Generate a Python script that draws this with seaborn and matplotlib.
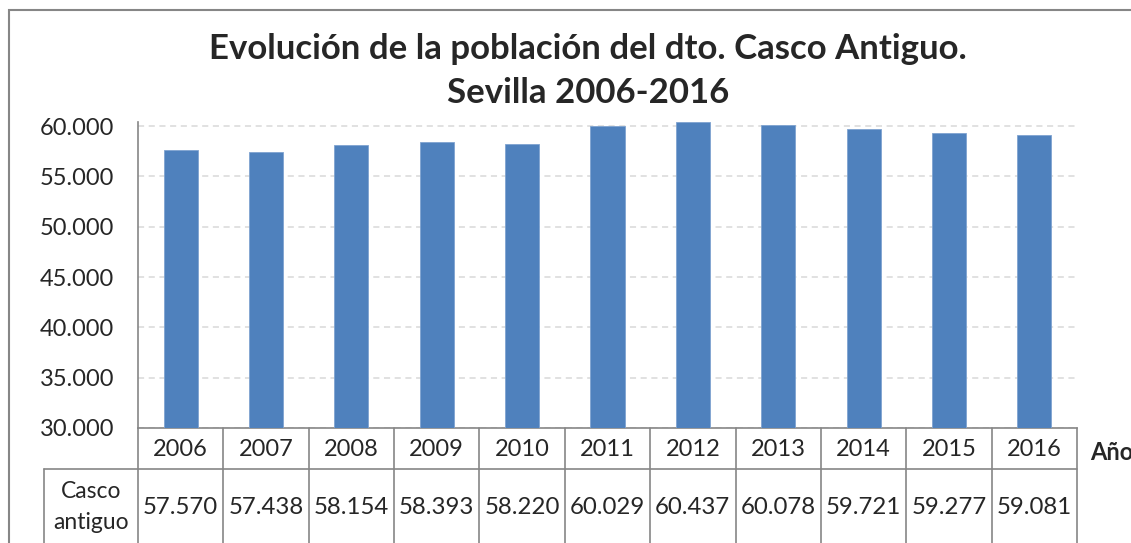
import matplotlib
matplotlib.use("Agg")
import matplotlib.pyplot as plt
from matplotlib.patches import Rectangle
from matplotlib.ticker import FuncFormatter
import seaborn as sns
import pandas as pd

# data #
years = ['2006', '2007', '2008', '2009', '2010', '2011', '2012', '2013', '2014', '2015', '2016']
casco_antiguo = [57570, 57438, 58154, 58393, 58220, 60029, 60437, 60078, 59721, 59277, 59081]
yticks = [30000, 35000, 40000, 45000, 50000, 55000, 60000]
row_label = 'Casco\nantiguo'
title = 'Evolución de la población del dto. Casco Antiguo.\nSevilla 2006-2016'

df = pd.DataFrame({'Año': years, 'Casco antiguo': casco_antiguo})

sns.set_style("white")
plt.rcParams['font.family'] = ['Lato', 'DejaVu Sans']

W, H = 1131, 543
fig = plt.figure(figsize=(W / 100, H / 100), dpi=100)
ax = fig.add_axes([138 / W, 1 - 428 / H, (1077 - 138) / W, (428 - 122) / H])

grey = '#868686'
sns.barplot(data=df, x='Año', y='Casco antiguo', color='#4F81BD', width=0.4,
            edgecolor='#7FA3D0', linewidth=0.6, saturation=1, ax=ax, zorder=3)

ax.set_ylim(30000, 60400)
ax.set_xlim(-0.5, len(years) - 0.5)
ax.set_yticks(yticks)
ax.yaxis.set_major_formatter(FuncFormatter(lambda v, p: f"{v:,.0f}".replace(',', '.')))
ax.grid(axis='y', color='#D9D9D9', linestyle=(0, (4, 3)), linewidth=1.1, zorder=0)
ax.tick_params(axis='y', direction='out', length=8, width=1.2, color=grey, labelsize=17, pad=9)
ax.tick_params(axis='x', length=0, labelbottom=False)
ax.set_xlabel('')
ax.set_ylabel('')
for s in ['top', 'right']:
    ax.spines[s].set_visible(False)
for s in ['left', 'bottom']:
    ax.spines[s].set_color(grey)
    ax.spines[s].set_linewidth(1.2)

# data table below the plot #
tr = ax.get_xaxis_transform()
y_head = (428 - 450) / (428 - 122)
y_line = (428 - 469) / (428 - 122)
y_row = (428 - 507) / (428 - 122)
y_end = -0.6
for i in range(len(years) + 1):
    ax.plot([i - 0.5, i - 0.5], [0, y_end], transform=tr, color=grey, lw=1.2, clip_on=False)
x_lab = -0.5 - (138 - 44) / ((1077 - 138) / len(years))
ax.plot([x_lab, len(years) - 0.5], [y_line, y_line], transform=tr, color=grey, lw=1.2, clip_on=False)
ax.plot([x_lab, x_lab], [y_line, y_end], transform=tr, color=grey, lw=1.2, clip_on=False)
for i, (yr, v) in enumerate(zip(years, casco_antiguo)):
    ax.text(i, y_head, yr, transform=tr, ha='center', va='center', fontsize=17)
    ax.text(i, y_row, f"{v:,}".replace(',', '.'), transform=tr, ha='center', va='center', fontsize=17.3)
ax.text((x_lab - 0.5) / 2, y_row, row_label, transform=tr, ha='center', va='center',
        fontsize=16.5, linespacing=1.6)
ax.text(1090 / W, 1 - 452 / H, 'Año', transform=fig.transFigure, ha='left', va='center',
        fontsize=17, fontweight='bold')

fig.text(588 / W, 1 - 71 / H, title, ha='center', va='center', fontsize=25,
         fontweight='bold', linespacing=1.45)

fig.patches.append(Rectangle((9 / W, -0.2), 1.2, 1.2 - 10 / H, transform=fig.transFigure,
                             fill=False, edgecolor=grey, lw=1.5))

fig.savefig('out.png', dpi=100)
